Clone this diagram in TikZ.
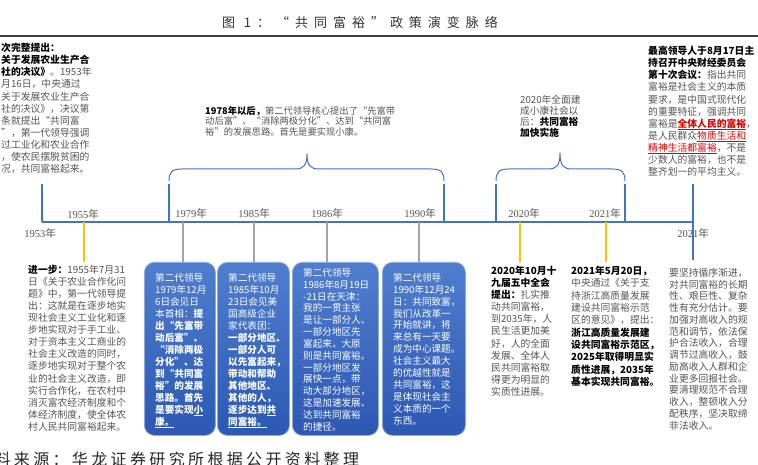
\documentclass[tikz,border=0pt]{standalone}
\usepackage{fontspec}
\setmainfont{Noto Sans CJK SC}
\newfontfamily\titlefont[LetterSpace=46]{Noto Sans CJK SC}
\newfontfamily\footfont[LetterSpace=21]{Noto Sans CJK SC}
\newfontfamily\ser{Liberation Serif}
\definecolor{tlblue}{HTML}{4472C4}
\definecolor{tkgray}{HTML}{A5A5A5}
\definecolor{tkyel}{HTML}{FFC000}
\definecolor{txt}{HTML}{555555}
\definecolor{emred}{HTML}{E00000}
\definecolor{boxtop}{RGB}{80,126,207}
\definecolor{boxbot}{RGB}{44,88,178}
\definecolor{boxedge}{HTML}{8EA9DB}
\newcommand{\hb}[1]{{\bfseries\color{black}#1}}
\begin{document}
\begin{tikzpicture}[x=1pt,y=-1pt,
  para/.style={anchor=north west, align=left, inner sep=0pt, text=txt,
    font=\fontsize{9.8}{12.1}\selectfont},
  boxtxt/.style={anchor=north west, align=left, inner sep=0pt, text=white,
    font=\fontsize{9.6}{12}\selectfont},
  bluebox/.style={anchor=north west, rounded corners=10pt, draw=boxedge, line width=0.8pt,
    top color=boxtop, bottom color=boxbot, inner sep=0pt},
  yearlbl/.style={inner sep=0pt, text=txt, font=\fontsize{10.5}{12}\selectfont},
  tline/.style={draw=tlblue, line width=1.6pt},
  vline/.style={draw=tlblue, line width=1.4pt},
  bracel/.style={draw=tlblue, line width=1pt},
  gtick/.style={draw=tkgray, line width=1.5pt},
  ytick/.style={draw=tkyel, line width=1.5pt}]
\useasboundingbox (0,0) rectangle (758,465);
\fill[white] (0,0) rectangle (758,465);

% title
\node[inner sep=0pt, text=black!80, font=\titlefont\fontsize{13}{15}\selectfont] (title) at (360,22) {图 1：“共同富裕”政策演变脉络};
\coordinate (ruleL) at (0,36);
\coordinate (ruleR) at (758,36);
\draw[black!75, line width=1.2pt] (ruleL) -- (ruleR);

% timeline
\coordinate (t0) at (42,222);
\coordinate (t1) at (693,222);
\draw[tline] (t0) -- (t1);

% year labels
\node[yearlbl] (l1953) at (40,233) {{\ser 1953}年};
\node[yearlbl] (l1955) at (83,214) {{\ser 1955}年};
\node[yearlbl] (l1979) at (191,213) {{\ser 1979}年};
\node[yearlbl] (l1985) at (254,213) {{\ser 1985}年};
\node[yearlbl] (l1986) at (327,213) {{\ser 1986}年};
\node[yearlbl] (l1990) at (420,213) {{\ser 1990}年};
\node[yearlbl] (l2020) at (524,213) {{\ser 2020}年};
\node[yearlbl] (l2021) at (605,213) {{\ser 2021}年};
\node[yearlbl] (l2021b) at (693,233) {{\ser 2021}年};

% top texts
\node[para] (tl) at (1,43) {\hb{次完整提出：}\\
\hb{关于发展农业生产合}\\
\hb{社的决议》}。1953年\\
月16日，中央通过\\
关于发展农业生产合\\
社的决议》，决议第\\
条就提出“共同富\\
”，第一代领导强调\\
过工业化和农业合作\\
，使农民摆脱贫困的\\
况，共同富裕起来。};

\node[para, font=\fontsize{9.3}{10.7}\selectfont] (t1978) at (205,106) {\hb{1978年以后，}第二代领导核心提出了“先富带\\
动后富”、“消除两极分化”、达到“共同富\\
裕”的发展思路。首先是要实现小康。};

\node[para, font=\fontsize{9.7}{11.1}\selectfont] (t2020top) at (520,95) {2020年全面建\\
成小康社会以\\
后：\hb{共同富裕}\\
\hb{加快实施}};

\node[para] (tr) at (648,46) {\hb{最高领导人于8月17日主}\\
\hb{持召开中央财经委员会}\\
\hb{第十次会议：}指出共同\\
富裕是社会主义的本质\\
要求，是中国式现代化\\
的重要特征，强调共同\\
富裕是{\bfseries\color{emred}\underline{全体人民的富裕}}，\\
是人民群众{\color{emred}\underline{物质生活和}}\\
{\color{emred}\underline{精神生活都富裕}}，不是\\
少数人的富裕，也不是\\
整齐划一的平均主义。};

% vertical connectors and braces
\coordinate (v1953) at (42,184);
\draw[vline] (v1953) -- (t0);
\coordinate (bA1) at (169,184);
\coordinate (bA2) at (444,184);
\coordinate (bAtip) at (307,154);
\draw[vline] (bA1) -- (bA1 |- t0);
\draw[vline] (bA2) -- (bA2 |- t0);
\draw[bracel] (169,181) .. controls (169,172) and (172,169) .. (182,169) -- (295,169)
  .. controls (303,169) and (307,166) .. (bAtip)
  .. controls (307,166) and (311,169) .. (319,169) -- (431,169)
  .. controls (441,169) and (444,172) .. (444,181);
\coordinate (bB1) at (496,184);
\coordinate (bB2) at (625,184);
\coordinate (bBtip) at (560,153);
\draw[vline] (bB1) -- (bB1 |- t0);
\draw[vline] (bB2) -- (bB2 |- t0);
\draw[bracel] (496,181) .. controls (496,172) and (499,169) .. (509,169) -- (548,169)
  .. controls (556,169) and (560,166) .. (bBtip)
  .. controls (560,166) and (564,169) .. (572,169) -- (612,169)
  .. controls (622,169) and (625,172) .. (625,181);
\coordinate (v2021) at (693,184);
\coordinate (v2021b) at (693,260);
\draw[vline] (v2021) -- (v2021b);

% blue boxes
\node[bluebox, minimum width=71pt, minimum height=173pt] (b1) at (144,262) {};
\node[bluebox, minimum width=72pt, minimum height=173pt] (b2) at (217,262) {};
\node[bluebox, minimum width=86pt, minimum height=173pt] (b3) at (292,262) {};
\node[bluebox, minimum width=83pt, minimum height=173pt] (b4) at (382,262) {};

\node[boxtxt] (b1t) at (155,273) {第二代领导\\
1979年12月\\
6日会见日\\
本首相：\textbf{提}\\
\textbf{出“先富带}\\
\textbf{动后富”、}\\
\textbf{“消除两极}\\
\textbf{分化”、达}\\
\textbf{到“共同富}\\
\textbf{裕”的发展}\\
\textbf{思路。首先}\\
\textbf{是要实现\underline{小}}\\
\textbf{\underline{康。}}};

\node[boxtxt] (b2t) at (228,273) {第二代领导\\
1985年10月\\
23日会见美\\
国高级企业\\
家代表团：\\
\textbf{一部分地区、}\\
\textbf{一部分人可}\\
\textbf{以先富起来，}\\
\textbf{带动和帮助}\\
\textbf{其他地区、}\\
\textbf{其他的人，}\\
\textbf{逐步达到\underline{共}}\\
\textbf{\underline{同富裕。}}};

\node[boxtxt, font=\fontsize{9.6}{11.85}\selectfont] (b3t) at (303,268) {第二代领导\\
1986年8月19日\\
-21日在天津：\\
我的一贯主张\\
是让一部分人、\\
一部分地区先\\
富起来，大原\\
则是共同富裕。\\
一部分地区发\\
展快一点，带\\
动大部分地区，\\
这是加速发展、\\
达到共同富裕\\
的捷径。};

\node[boxtxt, font=\fontsize{9.6}{11.9}\selectfont] (b4t) at (393,273) {第二代领导\\
1990年12月24\\
日：共同致富，\\
我们从改革一\\
开始就讲，将\\
来总有一天要\\
成为中心课题。\\
社会主义最大\\
的优越性就是\\
共同富裕，这\\
是体现社会主\\
义本质的一个\\
东西。};

% ticks
\coordinate (y1955) at (84,222);
\coordinate (y1979) at (183,222);
\coordinate (y1985) at (254,222);
\coordinate (y1986) at (327,222);
\coordinate (y1990) at (419,222);
\coordinate (y2020) at (520,222);
\coordinate (y2021) at (606,222);
\draw[ytick] (y1955) -- ++(0,40);
\draw[gtick] (y1979) -- (y1979 |- b1.north);
\draw[gtick] (y1985) -- (y1985 |- b2.north);
\draw[gtick] (y1986) -- (y1986 |- b3.north);
\draw[gtick] (y1990) -- (y1990 |- b4.north);
\draw[ytick] (y2020) -- ++(0,40);
\draw[ytick] (y2021) -- ++(0,40);

% bottom texts
\node[para, font=\fontsize{9.8}{12.05}\selectfont] (bl) at (28,265) {\hb{进一步：}1955年7月31\\
日《关于农业合作化问\\
题》中，第一代领导提\\
出：这就是在逐步地实\\
现社会主义工业化和逐\\
步地实现对于手工业、\\
对于资本主义工商业的\\
社会主义改造的同时，\\
逐步地实现对于整个农\\
业的社会主义改造，即\\
实行合作化，在农村中\\
消灭富农经济制度和个\\
体经济制度，使全体农\\
村人民共同富裕起来。};

\node[para, font=\fontsize{9.8}{12.07}\selectfont] (b2020) at (491,266) {\hb{2020年10月十}\\
\hb{九届五中全会}\\
\hb{提出：}扎实推\\
动共同富裕，\\
到2035年，人\\
民生活更加美\\
好，人的全面\\
发展、全体人\\
民共同富裕取\\
得更为明显的\\
实质性进展。};

\node[para, font=\fontsize{9.8}{12.3}\selectfont] (b2021) at (571,266) {\hb{2021年5月20日，}\\
中央通过《关于支\\
持浙江高质量发展\\
建设共同富裕示范\\
区的意见》，提出：\\
\hb{浙江高质量发展建}\\
\hb{设共同富裕示范区，}\\
\hb{2025年取得明显实}\\
\hb{质性进展，2035年}\\
\hb{基本实现共同富裕。}};

\node[para, font=\fontsize{9.8}{11.75}\selectfont] (br) at (669,268) {要坚持循序渐进，\\
对共同富裕的长期\\
性、艰巨性、复杂\\
性有充分估计。要\\
加强对高收入的规\\
范和调节，依法保\\
护合法收入，合理\\
调节过高收入，鼓\\
励高收入人群和企\\
业更多回报社会。\\
要清理规范不合理\\
收入，整顿收入分\\
配秩序，坚决取缔\\
非法收入。};

% footer
\node[anchor=west, inner sep=0pt, text=black!85, font=\footfont\fontsize{16}{18}\selectfont] (foot) at (-25,459) {资料来源：华龙证券研究所根据公开资料整理};
\end{tikzpicture}
\end{document}
